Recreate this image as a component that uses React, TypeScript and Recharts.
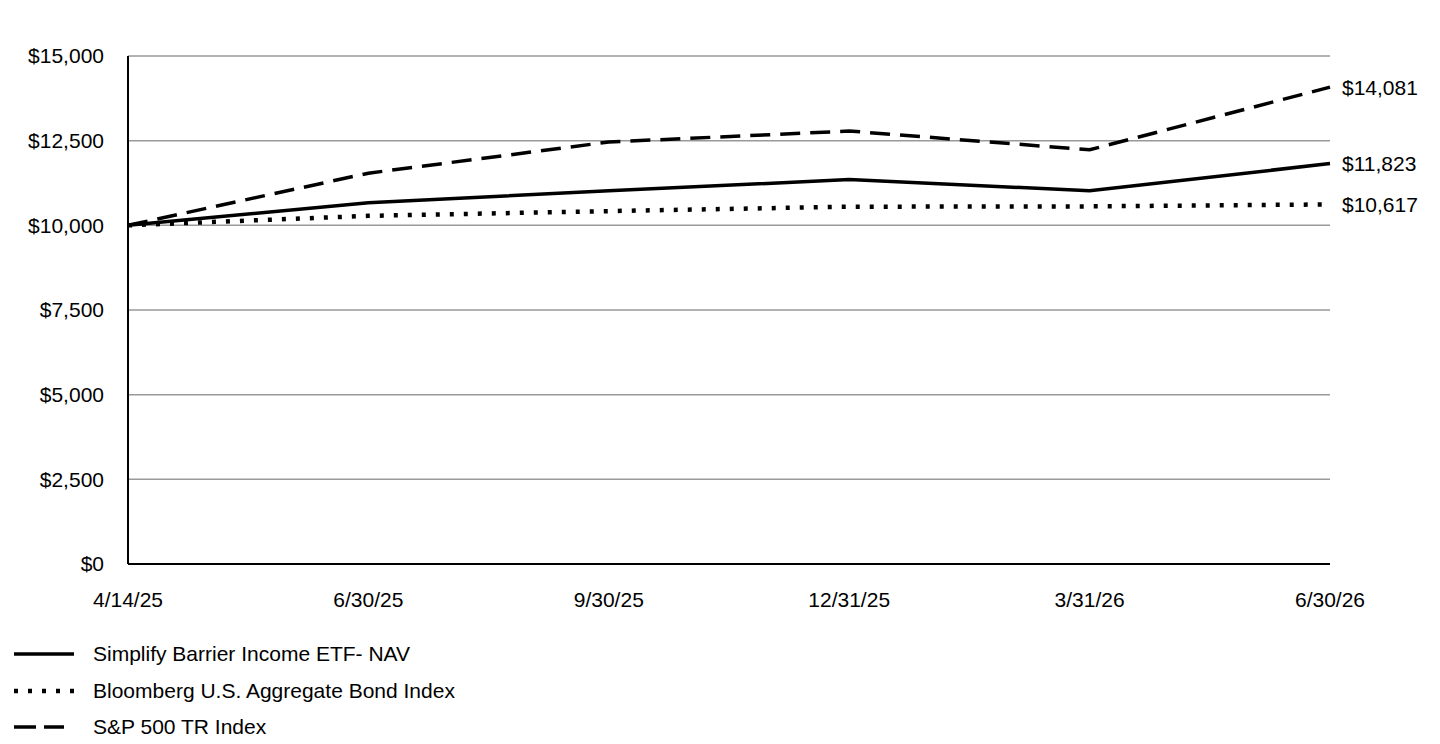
import React from 'react';
import {
  LineChart,
  Line,
  XAxis,
  YAxis,
  CartesianGrid
} from 'recharts';

// Growth of a $10,000 investment
const dates = ['4/14/25', '6/30/25', '9/30/25', '12/31/25', '3/31/26', '6/30/26'];
const navValues = [10000, 10670, 11020, 11350, 11020, 11823];
const bondValues = [10000, 10280, 10420, 10550, 10560, 10617];
const spValues = [10000, 11540, 12460, 12785, 12230, 14081];
const yTicks = [0, 2500, 5000, 7500, 10000, 12500, 15000];

const seriesNames = {
  nav: 'Simplify Barrier Income ETF- NAV',
  bond: 'Bloomberg U.S. Aggregate Bond Index',
  sp: 'S&P 500 TR Index'
};

const FONT = '"Liberation Sans", Arial, sans-serif';

const chartData = dates.map((date, i) => ({
  date,
  nav: navValues[i],
  bond: bondValues[i],
  sp: spValues[i]
}));

const money = (v: number) => `$${v.toLocaleString('en-US')}`;

const legendItems = [
  { key: 'nav', dash: undefined as string | undefined, width: 3.5, len: 60 },
  { key: 'bond', dash: '4 10', width: 4.5, len: 60 },
  { key: 'sp', dash: '22 8', width: 3.5, len: 50 }
];

const endLabel = (props: any) => {
  const { x, y, value, index } = props;
  if (index !== dates.length - 1) return null;
  return (
    <text
      x={x + 12}
      y={y}
      dominantBaseline="central"
      fontSize={21}
      fontFamily={FONT}
      fill="#000"
    >
      {money(value)}
    </text>
  );
};

const ChartLegend = () => (
  <div
    style={{
      position: 'absolute',
      left: 0,
      top: 636,
      fontFamily: FONT,
      fontSize: 21,
      color: '#000'
    }}
  >
    {legendItems.map((item) => (
      <div
        key={item.key}
        style={{ display: 'flex', alignItems: 'center', height: 36.5 }}
      >
        <svg width={79} height={10} style={{ marginLeft: 14 }}>
          <line
            x1={0}
            y1={5}
            x2={item.len}
            y2={5}
            stroke="#000"
            strokeWidth={item.width}
            strokeDasharray={item.dash}
          />
        </svg>
        <span>{seriesNames[item.key as keyof typeof seriesNames]}</span>
      </div>
    ))}
  </div>
);

export default function App() {
  return (
    <div style={{ position: 'absolute', left: 0, top: 0, width: 1440, height: 744, background: '#fff' }}>
      <LineChart
        width={1440}
        height={744}
        data={chartData}
        margin={{ top: 56, right: 110, left: 0, bottom: 140 }}
      >
        <CartesianGrid vertical={false} stroke="#999" strokeWidth={1.5} />
        <XAxis
          dataKey="date"
          height={40}
          tickLine={false}
          tickSize={0}
          tickMargin={28}
          axisLine={{ stroke: '#000', strokeWidth: 2 }}
          tick={{ fill: '#000', fontSize: 21, fontFamily: FONT }}
          interval={0}
        />
        <YAxis
          width={128}
          domain={[0, 15000]}
          ticks={yTicks}
          tickFormatter={money}
          tickLine={false}
          tickSize={0}
          tickMargin={24}
          axisLine={{ stroke: '#000', strokeWidth: 2 }}
          tick={{ fill: '#000', fontSize: 21, fontFamily: FONT }}
        />
        <Line
          dataKey="sp"
          name={seriesNames.sp}
          stroke="#000"
          strokeWidth={3.5}
          strokeDasharray="20 10"
          dot={false}
          type="linear"
          label={endLabel}
          isAnimationActive={false}
        />
        <Line
          dataKey="bond"
          name={seriesNames.bond}
          stroke="#000"
          strokeWidth={4.5}
          strokeDasharray="4 10"
          dot={false}
          type="linear"
          label={endLabel}
          isAnimationActive={false}
        />
        <Line
          dataKey="nav"
          name={seriesNames.nav}
          stroke="#000"
          strokeWidth={3.5}
          dot={false}
          type="linear"
          label={endLabel}
          isAnimationActive={false}
        />
      </LineChart>
      <ChartLegend />
    </div>
  );
}
